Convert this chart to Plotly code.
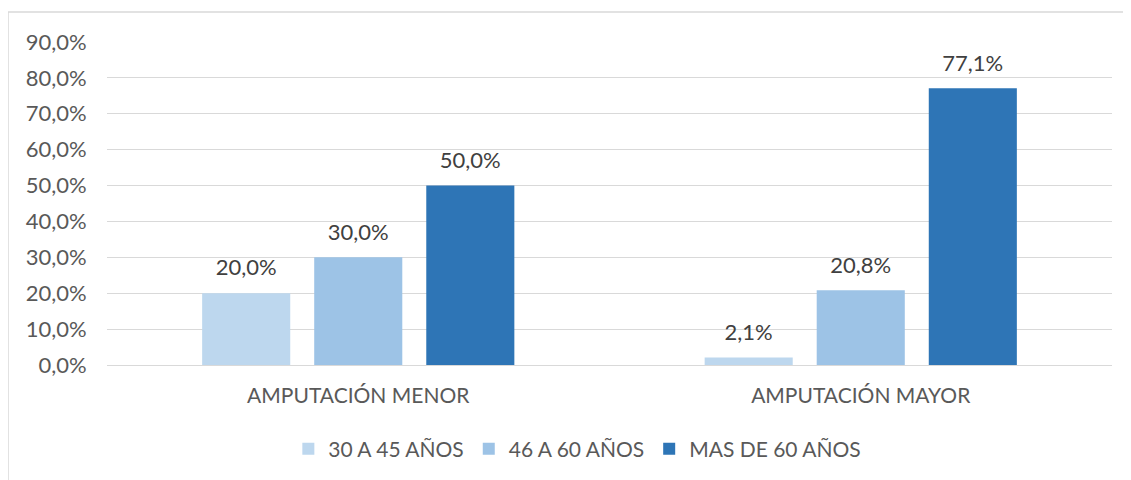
import plotly.graph_objects as go

categories = ["AMPUTACIÓN MENOR", "AMPUTACIÓN MAYOR"]
series_names = ["30 A 45 AÑOS", "46 A 60 AÑOS", "MAS DE 60 AÑOS"]
values_30_45 = [0.200, 0.021]
values_46_60 = [0.300, 0.208]
values_60_plus = [0.500, 0.771]
colors = ["#BDD7EE", "#9DC3E6", "#2E75B6"]
y_ticks = [0, 0.1, 0.2, 0.3, 0.4, 0.5, 0.6, 0.7, 0.8, 0.9]

FONT = "Lato, Open Sans, sans-serif"
FS = 21
FS_NUM = 22

series = [values_30_45, values_46_60, values_60_plus]

fig = go.Figure()
for name, vals, col in zip(series_names, series, colors):
    fig.add_trace(go.Bar(
        x=categories, y=vals, name=name, marker=dict(color=col, line=dict(width=0)),
        hoverinfo="x+y+name",
    ))
# data labels, placed above bars (grouped like the bars)
for name, vals in zip(series_names, series):
    fig.add_trace(go.Scatter(
        x=categories, y=vals, mode="markers+text", showlegend=False,
        text=[f"{v*100:.1f}%".replace(".", ",") for v in vals],
        textposition="top center", cliponaxis=False,
        marker=dict(size=18, color="rgba(0,0,0,0)"),
        textfont=dict(size=FS_NUM, color="#404040", family=FONT),
        hoverinfo="skip",
    ))

# the page body adds an 8px offset; margins compensate for it
fig.update_layout(
    width=1131, height=480,
    margin=dict(l=99, r=27, t=34, b=123, autoexpand=False),
    paper_bgcolor="white", plot_bgcolor="white",
    separators=",.",
    barmode="group", bargap=0.331, bargroupgap=0.214,
    scattermode="group", scattergap=0.331,
    font=dict(family=FONT, size=FS, color="#595959"),
    showlegend=True,
    legend=dict(orientation="h", x=0.468, xanchor="center", y=-0.26, yanchor="middle",
                font=dict(size=FS, color="#595959", family=FONT), itemwidth=30,
                traceorder="normal"),
    xaxis=dict(showgrid=False, showline=False, ticks="outside", ticklen=12, automargin=False,
               tickcolor="rgba(0,0,0,0)", tickfont=dict(size=FS, color="#595959")),
    yaxis=dict(range=[0, 0.9], tickvals=y_ticks, tickformat=".1%", automargin=False,
               showgrid=True, gridcolor="#D9D9D9", gridwidth=1,
               zeroline=True, zerolinecolor="#D9D9D9", zerolinewidth=1,
               ticks="outside", ticklen=15, tickcolor="rgba(0,0,0,0)",
               tickfont=dict(size=FS_NUM, color="#595959")),
    shapes=[dict(type="rect", xref="paper", yref="paper",
                 x0=(0 - 99) / 1005, x1=1.2, y0=-0.6, y1=(357 - 4) / 323,
                 line=dict(color="#D9D9D9", width=1.5), fillcolor="rgba(0,0,0,0)", layer="below")],
)

fig.write_html("out.html")
